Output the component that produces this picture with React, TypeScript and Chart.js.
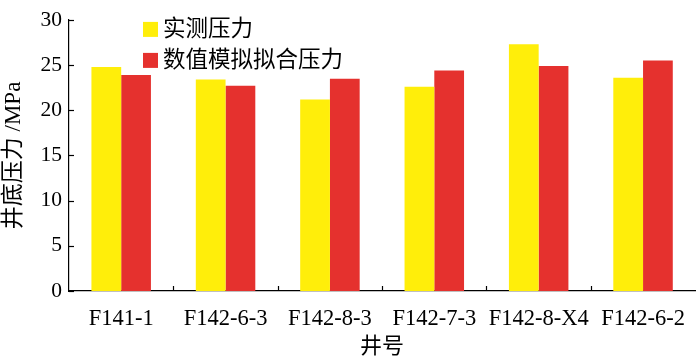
import React, { useEffect, useRef } from "react";
import { Chart, registerables } from "chart.js";

Chart.register(...registerables);

const categories = ["F141-1", "F142-6-3", "F142-8-3", "F142-7-3", "F142-8-X4", "F142-6-2"];
const measured = [24.8, 23.4, 21.2, 22.6, 27.3, 23.6];
const simulated = [23.9, 22.7, 23.5, 24.4, 24.9, 25.5];
const seriesNames = ["实测压力", "数值模拟拟合压力"];
const seriesColors = ["#FFEE0A", "#E5312E"];
const yTitle = "井底压力 /MPa";
const xTitle = "井号";

const SERIF = '"Liberation Serif", "Noto Sans CJK SC", serif';

const decorPlugin = {
  id: "decor",
  afterDraw(chart: any) {
    const ctx = chart.ctx;
    const area = chart.chartArea;
    const y = chart.scales.y;
    ctx.save();
    ctx.strokeStyle = "#000";
    ctx.lineWidth = 1.2;
    y.ticks.forEach((t: any) => {
      const py = Math.round(y.getPixelForValue(t.value)) + 0.5;
      ctx.beginPath();
      ctx.moveTo(area.left, py);
      ctx.lineTo(area.left + 5, py);
      ctx.stroke();
    });
    const n = categories.length;
    const w = (area.right - area.left) / n;
    for (let i = 1; i < n; i++) {
      const px = Math.round(area.left + i * w) + 0.5;
      ctx.beginPath();
      ctx.moveTo(px, area.bottom);
      ctx.lineTo(px, area.bottom - 5);
      ctx.stroke();
    }
    const ds = chart.data.datasets;
    const lx = area.left + 74;
    ctx.font = `22.5px ${SERIF}`;
    ctx.textBaseline = "middle";
    ctx.textAlign = "left";
    ds.forEach((d: any, i: number) => {
      const cy = area.top + 9 + i * 31;
      ctx.fillStyle = d.backgroundColor;
      ctx.fillRect(lx, cy - 7, 15, 15);
      ctx.fillStyle = "#000";
      ctx.fillText(d.label, lx + 20, cy + 1);
    });
    ctx.restore();
  },
};

export default function App() {
  const ref = useRef<HTMLCanvasElement | null>(null);
  useEffect(() => {
    if (!ref.current) return;
    const chart = new Chart(ref.current, {
      type: "bar",
      data: {
        labels: categories,
        datasets: [
          { label: seriesNames[0], data: measured, backgroundColor: seriesColors[0], borderWidth: 0 },
          { label: seriesNames[1], data: simulated, backgroundColor: seriesColors[1], borderWidth: 0 },
        ],
      },
      options: {
        animation: false,
        responsive: false,
        maintainAspectRatio: false,
        layout: { padding: { top: 13, right: 1, left: 0, bottom: 0 }, autoPadding: false } as any,
        plugins: { legend: { display: false }, tooltip: { enabled: false } },
        datasets: { bar: { categoryPercentage: 0.57, barPercentage: 1.0 } },
        scales: {
          x: {
            grid: { display: false, drawTicks: false },
            border: { display: true, color: "#000", width: 1.2 },
            ticks: { color: "#000", font: { family: SERIF, size: 22.5 }, padding: 15, maxRotation: 0, autoSkip: false },
            title: { display: true, text: xTitle, color: "#000", font: { family: SERIF, size: 22 }, padding: { top: 0, bottom: 0 } },
            afterFit: (s: any) => { s.height = 69; },
          },
          y: {
            min: 0,
            max: 30,
            grid: { display: false, drawTicks: false },
            border: { display: true, color: "#000", width: 1.2 },
            ticks: { stepSize: 5, color: "#000", font: { family: SERIF, size: 21.5 }, padding: 7 },
            title: { display: true, text: yTitle, color: "#000", font: { family: SERIF, size: 23 }, padding: { top: 0, bottom: 4 } },
            afterFit: (s: any) => { s.width = 69; },
          },
        },
      },
      plugins: [decorPlugin],
    });
    return () => chart.destroy();
  }, []);
  return (
    <div style={{ position: "fixed", left: 0, top: 0, width: 700, height: 360, background: "#fff" }}>
      <canvas ref={ref} width={700} height={360} style={{ width: 700, height: 360 }} />
    </div>
  );
}
